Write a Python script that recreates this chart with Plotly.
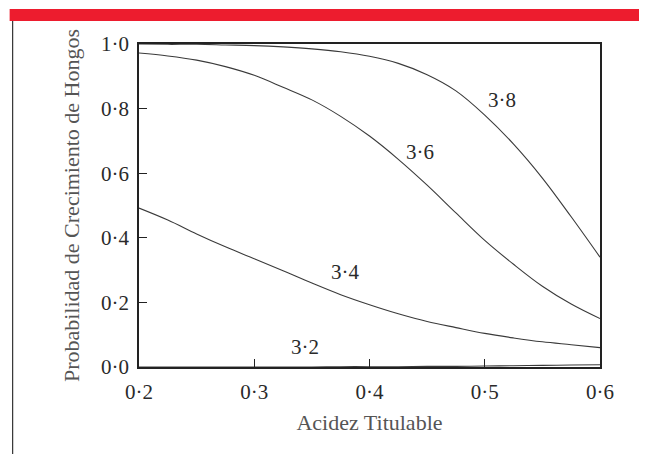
import plotly.graph_objects as go

# Data
acidez = [0.20, 0.225, 0.25, 0.275, 0.30, 0.325, 0.35, 0.375, 0.40, 0.425, 0.45, 0.475, 0.50, 0.525, 0.55, 0.575, 0.60]

p_38 = [1.000, 0.999, 0.999, 0.997, 0.995, 0.991, 0.985, 0.976, 0.962, 0.940, 0.905, 0.855, 0.780, 0.690, 0.585, 0.465, 0.340]
p_36 = [0.972, 0.963, 0.950, 0.930, 0.903, 0.866, 0.827, 0.776, 0.715, 0.643, 0.563, 0.477, 0.392, 0.318, 0.250, 0.195, 0.150]
p_34 = [0.492, 0.455, 0.412, 0.372, 0.335, 0.298, 0.260, 0.224, 0.193, 0.165, 0.141, 0.122, 0.104, 0.090, 0.078, 0.069, 0.060]
p_32 = [0.000, 0.000, 0.000, 0.000, 0.000, 0.000, 0.000, 0.001, 0.001, 0.001, 0.002, 0.002, 0.003, 0.004, 0.005, 0.006, 0.007]

series = [("3·8", p_38), ("3·6", p_36), ("3·4", p_34), ("3·2", p_32)]

label_text = ["3·8", "3·6", "3·4", "3·2"]
label_x = [0.515, 0.444, 0.379, 0.344]
label_y = [0.827, 0.666, 0.294, 0.062]

x_ticks = [0.2, 0.3, 0.4, 0.5, 0.6]
x_tick_text = ["0·2", "0·3", "0·4", "0·5", "0·6"]
y_ticks = [0.0, 0.2, 0.4, 0.6, 0.8, 1.0]
y_tick_text = ["0·0", "0·2", "0·4", "0·6", "0·8", "1·0"]

# page is offset by the default 8px body margin
OFF = 8
W, H = 647 - OFF, 454 - OFF
L, R, T, B = 138.5 - OFF, 600 - OFF, 44 - OFF, 367 - OFF

def px(xp):
    return (xp - OFF - L) / (R - L)

def py(yp):
    return (B - (yp - OFF)) / (B - T)

FONT = "Liberation Serif"

fig = go.Figure()
for name, vals in series:
    fig.add_trace(go.Scatter(
        x=acidez, y=vals, mode="lines", name=name,
        line=dict(color="#3a3a3a", width=1.1, shape="spline", smoothing=1.0),
        showlegend=False, hoverinfo="skip"))

for t, xx, yy in zip(label_text, label_x, label_y):
    fig.add_annotation(x=xx, y=yy, text=t, showarrow=False,
                       font=dict(family=FONT, size=21, color="#2a2a2a"))

fig.add_shape(type="rect", xref="paper", yref="paper",
              x0=px(9), x1=px(670), y0=py(21), y1=py(9),
              fillcolor="#ED1C2E", line=dict(width=0), layer="above")
fig.add_shape(type="line", xref="paper", yref="paper",
              x0=px(12), x1=px(12), y0=py(21), y1=py(480),
              line=dict(color="#333333", width=1.2))

axis_common = dict(showgrid=False, zeroline=False, showline=True, mirror=True,
                   linecolor="#222222", linewidth=1.8, ticks="inside", ticklen=8,
                   tickwidth=1.2, tickcolor="#222222",
                   tickfont=dict(family=FONT, size=21, color="#2a2a2a"))

fig.update_layout(
    width=W, height=H,
    margin=dict(l=L, r=W - R, t=T, b=H - B),
    paper_bgcolor="white", plot_bgcolor="white",
    xaxis=dict(range=[0.2, 0.6], tickvals=x_ticks, ticktext=x_tick_text,
               ticklabelstandoff=5,
               title=dict(text="Acidez Titulable", standoff=12,
                          font=dict(family=FONT, size=22, color="#555555")),
               **axis_common),
    yaxis=dict(range=[0.0, 1.0], tickvals=y_ticks, ticktext=y_tick_text,
               ticklabelstandoff=4,
               title=dict(text="Probabilidad de Crecimiento de Hongos", standoff=15,
                          font=dict(family=FONT, size=22, color="#555555")),
               **axis_common),
)

fig.write_html("out.html")
